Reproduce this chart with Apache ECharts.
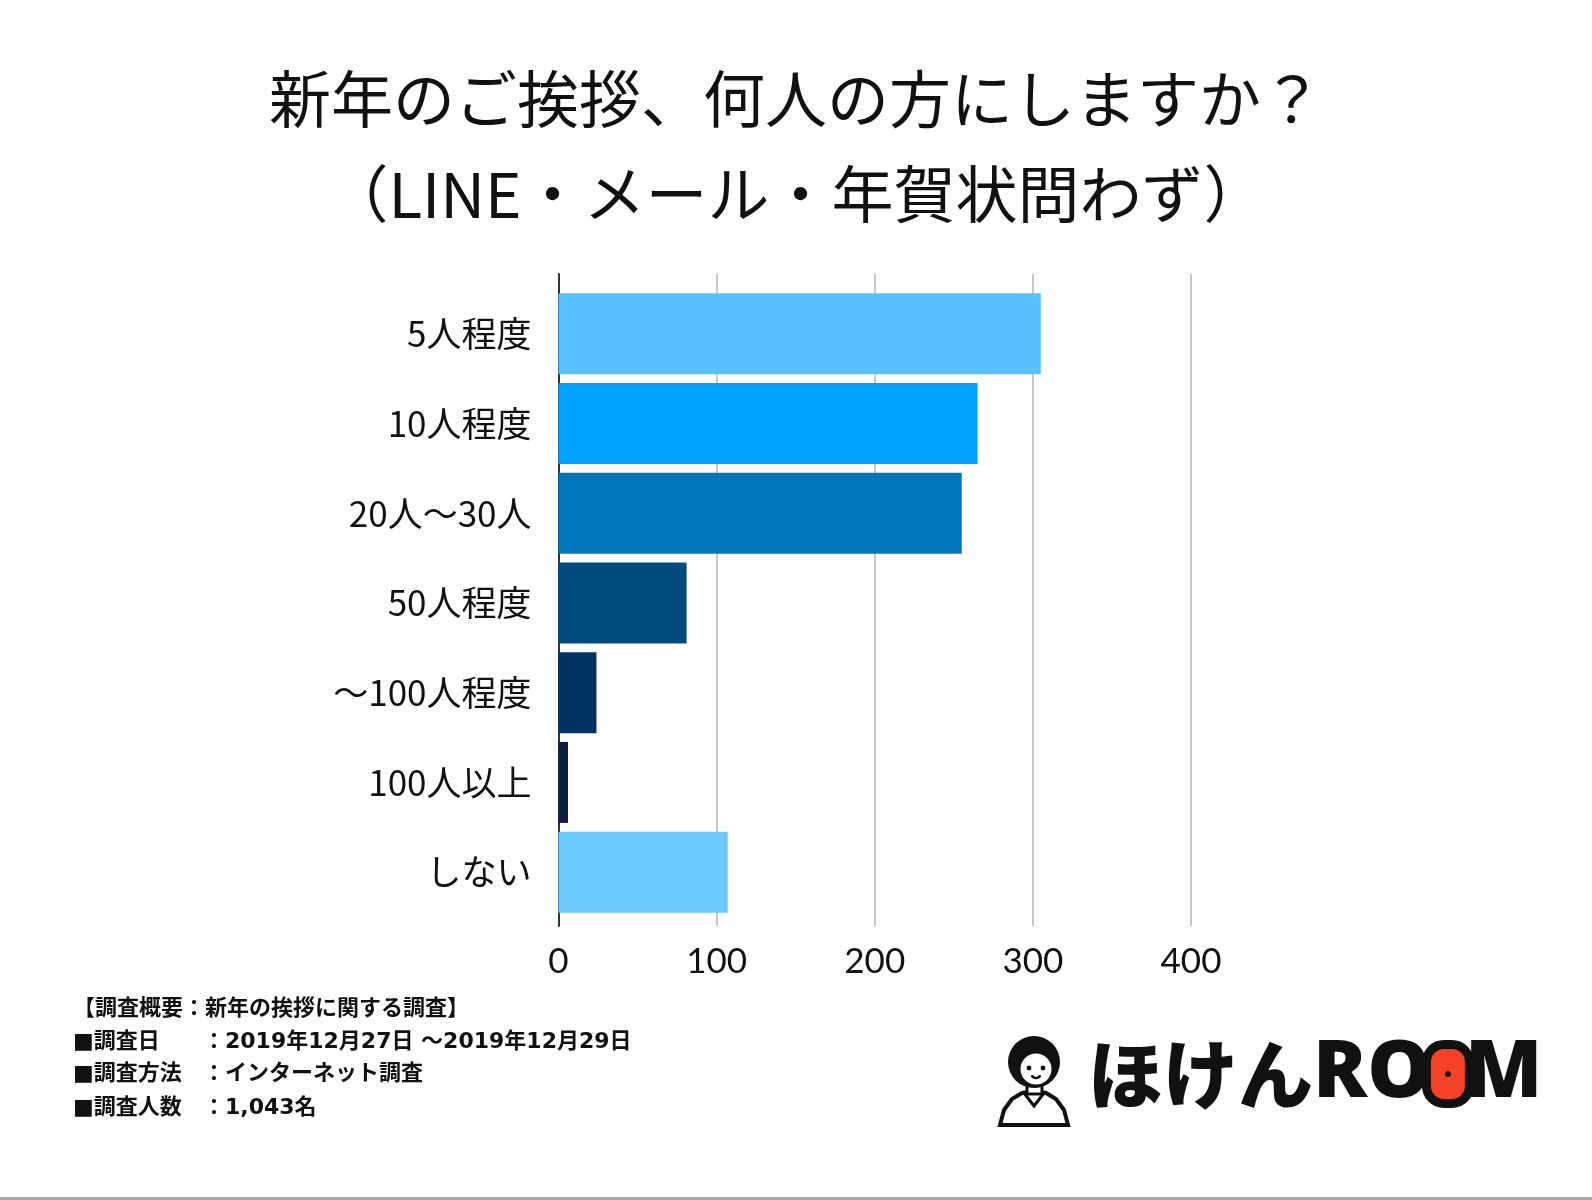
<!DOCTYPE html>
<html>
<head>
<meta charset="utf-8">
<script src="https://cdn.jsdelivr.net/npm/echarts@6/dist/echarts.min.js"></script>
<style>
  html, body { margin: 0; padding: 0; background: #fff; }
  #chart { width: 1592px; height: 1200px; }
</style>
</head>
<body>
<div id="chart"></div>
<script>
// data (n = 1,043)
var categories = ["5人程度", "10人程度", "20人〜30人", "50人程度", "〜100人程度", "100人以上", "しない"];
var counts = [305, 265, 255, 81, 24, 6, 107];
var barColors = ["#57c0fe", "#00a2ff", "#0176ba", "#004c7f", "#003460", "#0b1e3b", "#6bc9fe"];
var xTicks = [0, 100, 200, 300, 400];

var titleLines = ["新年のご挨拶、何人の方にしますか？", "（LINE・メール・年賀状問わず）"];
var noteLabels = ["【調査概要：新年の挨拶に関する調査】", "■調査日", "■調査方法", "■調査人数"];
var noteValues = ["", "：2019年12月27日 〜2019年12月29日", "：インターネット調査", "：1,043名"];

var FONT = "'Noto Sans CJK JP', 'Noto Sans', sans-serif";
var NOTE_FONT = "bold 22px 'DejaVu Sans', 'Noto Sans CJK JP', sans-serif";

var chartDom = document.getElementById("chart");
var myChart = echarts.init(chartDom);

var barData = counts.map(function (v, i) {
  return { value: v, itemStyle: { color: barColors[i] } };
});

// footer text blocks
var noteY = [1010, 1043, 1075, 1109];
var notes = [];
for (var i = 0; i < noteLabels.length; i++) {
  notes.push({
    type: "text", left: 73, top: noteY[i] - 12,
    style: { text: noteLabels[i], font: NOTE_FONT, fill: "#111" }
  });
  if (noteValues[i]) {
    notes.push({
      type: "text", left: 203, top: noteY[i] - 12,
      style: { text: noteValues[i], font: NOTE_FONT, fill: "#111" }
    });
  }
}

// simple drawing of the logo person
var person = {
  type: "group", left: 998, top: 1036,
  children: [
    { type: "polygon", shape: { points: [[2, 89], [6, 74], [14, 63], [24, 57], [36, 55], [48, 57], [58, 63], [66, 74], [70, 89]] }, style: { fill: "#fff", stroke: "#111", lineWidth: 4 } },
    { type: "polyline", shape: { points: [[26, 57], [36, 70], [46, 57]] }, style: { stroke: "#111", lineWidth: 3, fill: null } },
    { type: "rect", shape: { x: 29, y: 44, width: 15, height: 14 }, style: { fill: "#fff", stroke: "#111", lineWidth: 3 } },
    { type: "circle", shape: { cx: 36, cy: 26, r: 26 }, style: { fill: "#111" } },
    { type: "circle", shape: { cx: 38, cy: 33, r: 17 }, style: { fill: "#fff", stroke: "#111", lineWidth: 3 } },
    { type: "circle", shape: { cx: 31, cy: 32, r: 2.4 }, style: { fill: "#111" } },
    { type: "circle", shape: { cx: 45, cy: 32, r: 2.4 }, style: { fill: "#111" } },
    { type: "arc", shape: { cx: 38, cy: 37, r: 5, startAngle: 0.5, endAngle: Math.PI - 0.5 }, style: { stroke: "#111", lineWidth: 2.5, fill: null } }
  ]
};

var logo = {
  type: "text", left: 1088, top: 1034,
  style: {
    text: "{k|ほけん}{l|RO}{r|●}{l|M}",
    rich: {
      k: { font: "900 75px " + FONT, fill: "#111" },
      l: { font: "900 80px 'Noto Sans', sans-serif", fill: "#111" },
      r: {
        font: "900 14px sans-serif", fill: "#111",
        backgroundColor: "#f44127", borderColor: "#111", borderWidth: 9,
        borderRadius: 13, width: 24, height: 50, align: "right",
        padding: [0, 5, 0, 5], margin: 4
      }
    }
  }
};

var option = {
  animation: false,
  textStyle: { fontFamily: FONT },
  title: {
    text: titleLines.join("\n"),
    left: "center", top: 47,
    textStyle: { fontSize: 62, fontWeight: "normal", color: "#111", lineHeight: 95, fontFamily: FONT }
  },
  grid: [
    { left: 558.5, top: 274, width: 632.5, height: 652 },
    { left: 558.5, top: 289, width: 632.5, height: 628 }
  ],
  xAxis: [
    {
      type: "value", gridIndex: 0, min: 0, max: 400, interval: 100,
      axisLine: { show: false }, axisTick: { show: false },
      splitLine: { show: true, lineStyle: { color: "#c8c8c8", width: 2 } },
      axisLabel: {
        fontSize: 35, color: "#111", margin: 18, fontFamily: "Lato, " + FONT, fontWeight: "normal",
        formatter: function (v) { return xTicks.indexOf(v) >= 0 ? String(v) : ""; }
      }
    },
    { type: "value", gridIndex: 1, min: 0, max: 400, show: false }
  ],
  yAxis: [
    {
      type: "value", gridIndex: 0,
      axisLine: { show: true, lineStyle: { color: "#333", width: 2 } },
      axisTick: { show: false }, axisLabel: { show: false }, splitLine: { show: false }
    },
    {
      type: "category", gridIndex: 1, data: categories, inverse: true,
      axisLine: { show: false }, axisTick: { show: false }, splitLine: { show: false },
      axisLabel: { fontSize: 35, color: "#111", margin: 27 }
    }
  ],
  series: [
    {
      name: "人数", type: "bar", xAxisIndex: 1, yAxisIndex: 1,
      barWidth: 81, data: barData, z: 3
    }
  ],
  graphic: notes.concat([
    person,
    logo,
    { type: "rect", left: 0, top: 1197, shape: { width: 1592, height: 3 }, style: { fill: "#a9a9ad" } }
  ])
};

option && myChart.setOption(option);
</script>
</body>
</html>
